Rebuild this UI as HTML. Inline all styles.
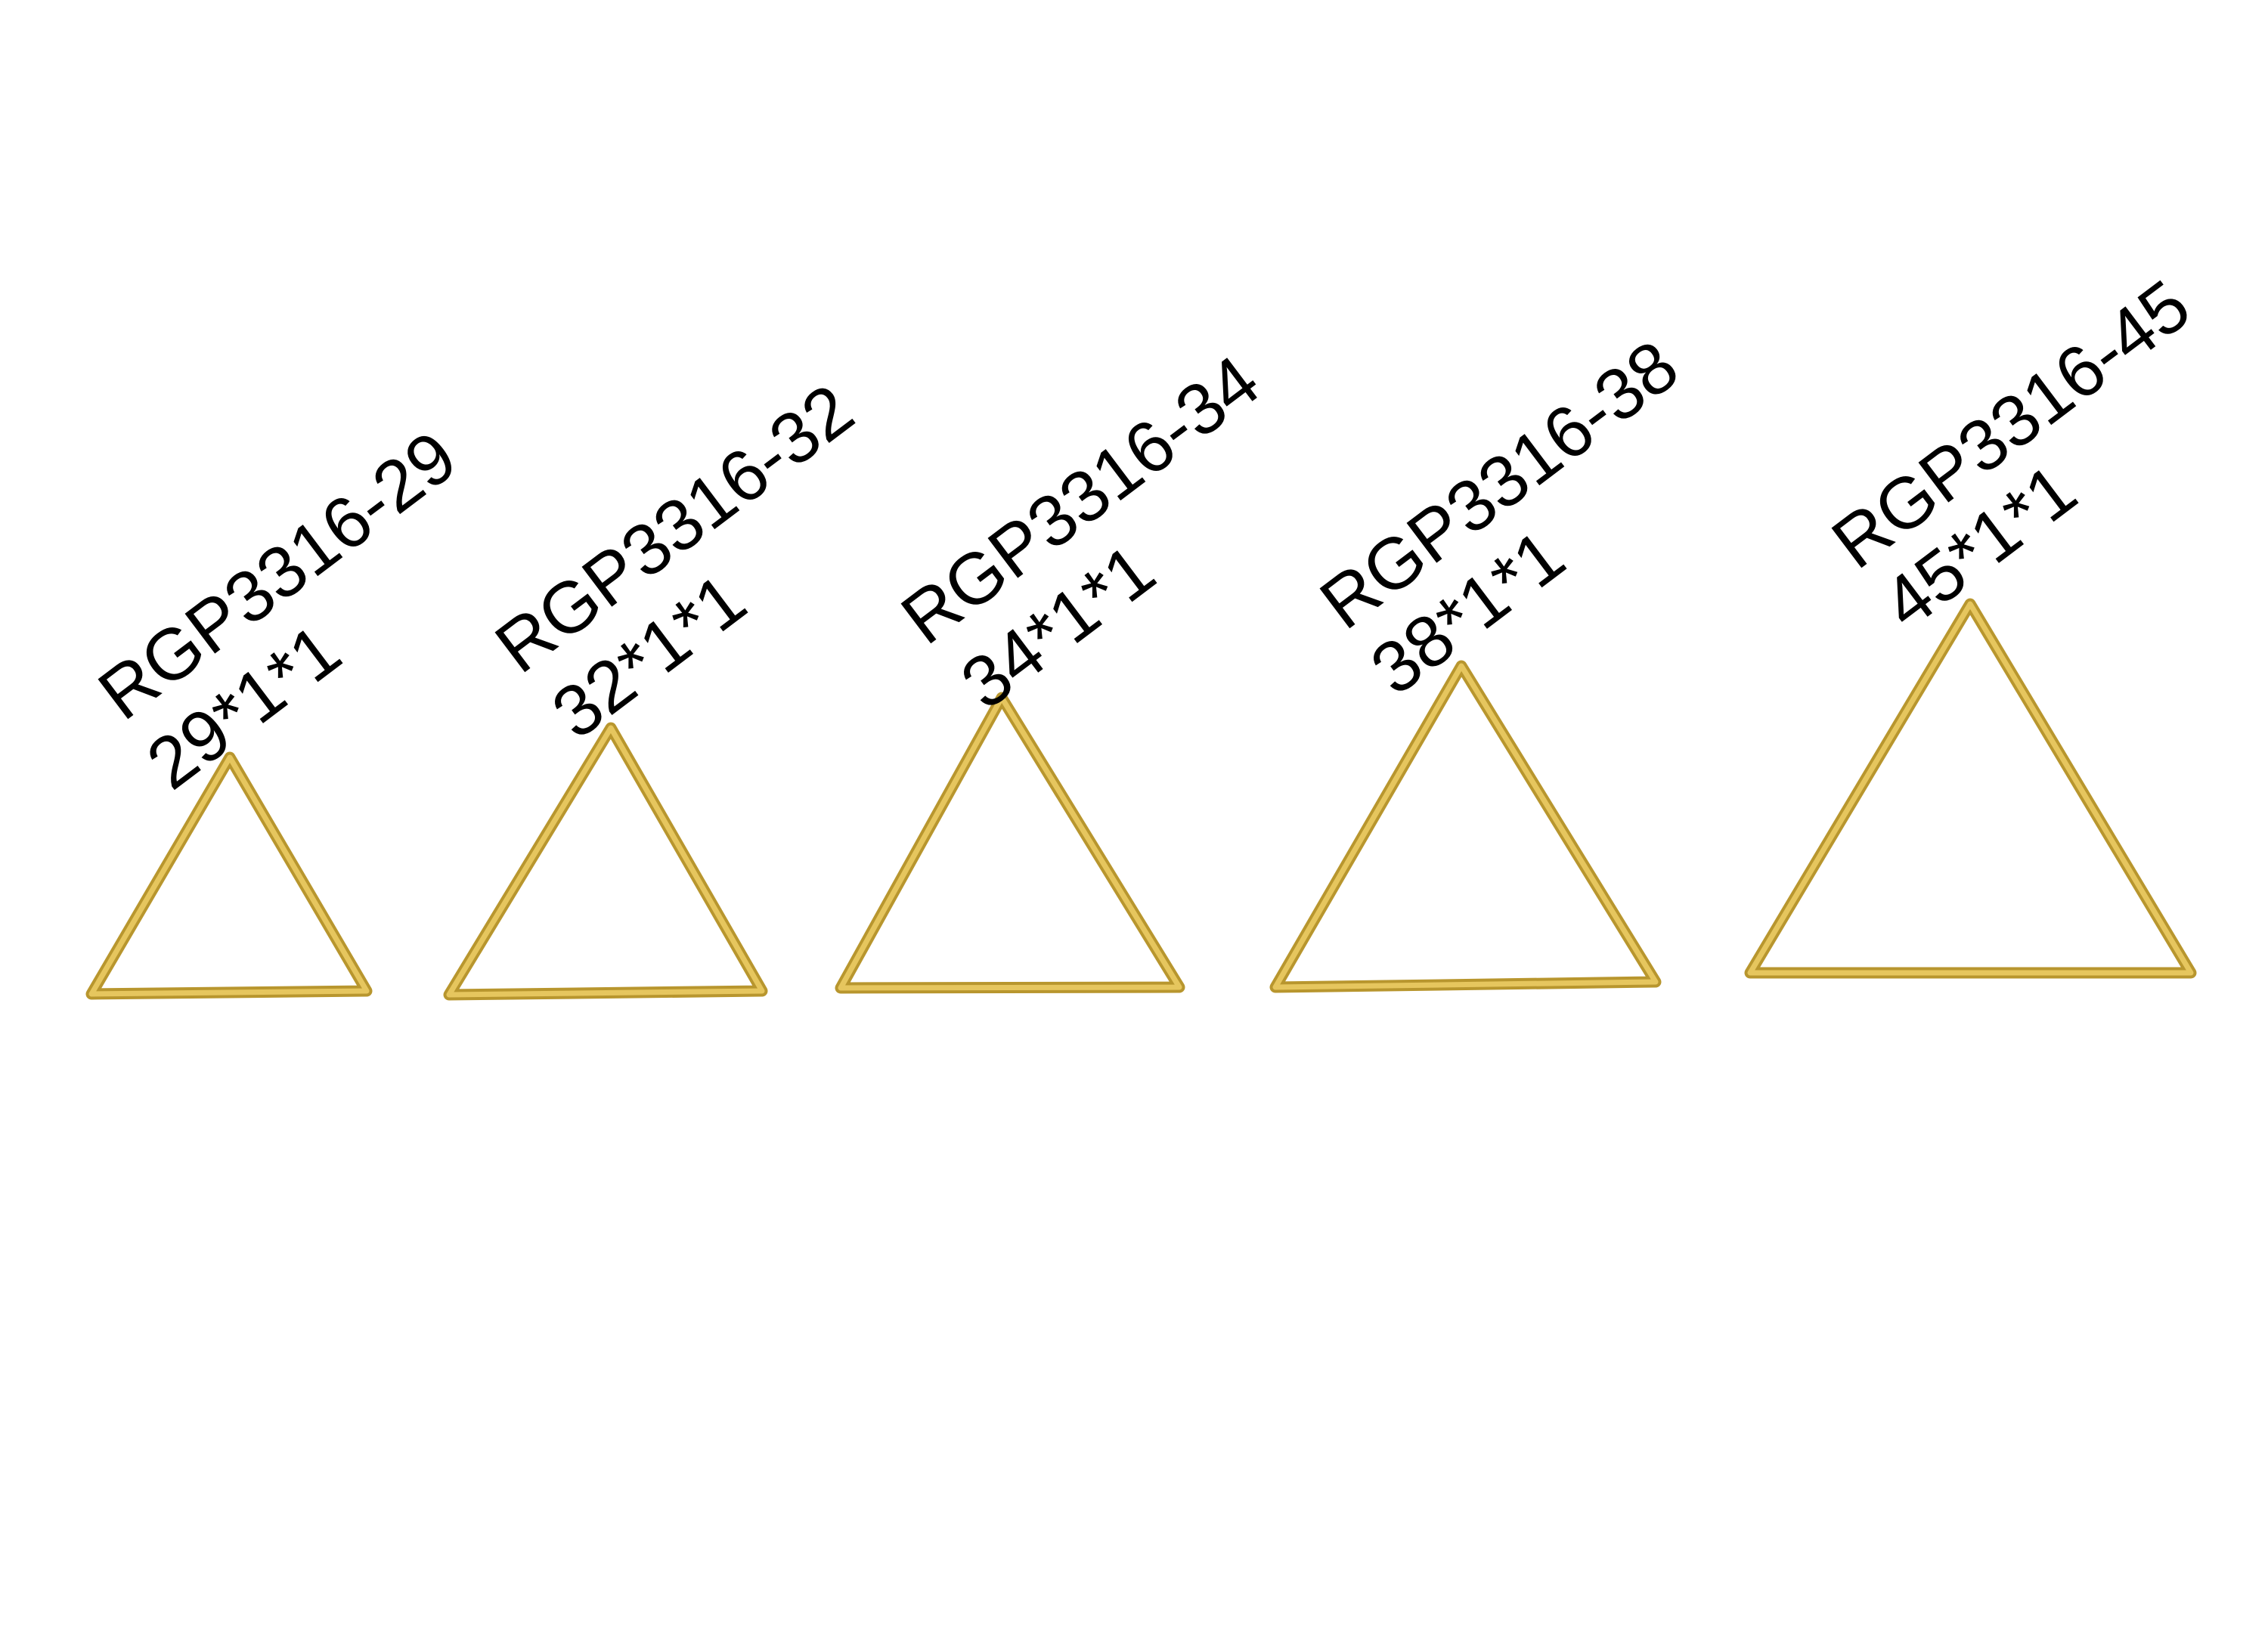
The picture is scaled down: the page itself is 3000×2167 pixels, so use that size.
<!DOCTYPE html>
<html><head><meta charset="utf-8"><style>html,body{margin:0;padding:0;background:#fff}svg{display:block}
.t{font-family:"Liberation Sans",Arial,sans-serif;font-size:96px;fill:#000}</style></head>
<body>
<svg width="3000" height="2167" viewBox="0 0 3000 2167" xmlns="http://www.w3.org/2000/svg">
<rect width="3000" height="2167" fill="#fff"/>
<g fill="none" stroke-linejoin="round">
<g stroke="#b8962e" stroke-width="15">
<polygon points="304,1002 121,1315 485,1311"/>
<polygon points="808,963 594,1316 1008,1311"/>
<polygon points="1325,923 1112,1307 1560,1306"/>
<polygon points="1933,881 1687,1306 2190,1299"/>
<polygon points="2606,799 2315,1287 2898,1287"/>
</g>
<g stroke="#e6c65e" stroke-width="7">
<polygon points="304,1002 121,1315 485,1311"/>
<polygon points="808,963 594,1316 1008,1311"/>
<polygon points="1325,923 1112,1307 1560,1306"/>
<polygon points="1933,881 1687,1306 2190,1299"/>
<polygon points="2606,799 2315,1287 2898,1287"/>
</g>
</g>
<g class="t">
<text class="t" transform="translate(163,956) rotate(-37)">RGP3316-29</text>
<text class="t" transform="translate(227,1048) rotate(-37)">29*1*1</text>
<text class="t" transform="translate(688,894) rotate(-37)">RGP3316-32</text>
<text class="t" transform="translate(763,981) rotate(-37)">32*1*1</text>
<text class="t" transform="translate(1225,856) rotate(-37)">RGP3316-34</text>
<text class="t" transform="translate(1304,942) rotate(-37)">34*1*1</text>
<text class="t" transform="translate(1779,836) rotate(-37)">RGP3316-38</text>
<text class="t" transform="translate(1846,923) rotate(-37)">38*1*1</text>
<text class="t" transform="translate(2456,756) rotate(-37)">RGP3316-45</text>
<text class="t" transform="translate(2523,836) rotate(-37)">45*1*1</text>
</g>
</svg>
</body></html>
